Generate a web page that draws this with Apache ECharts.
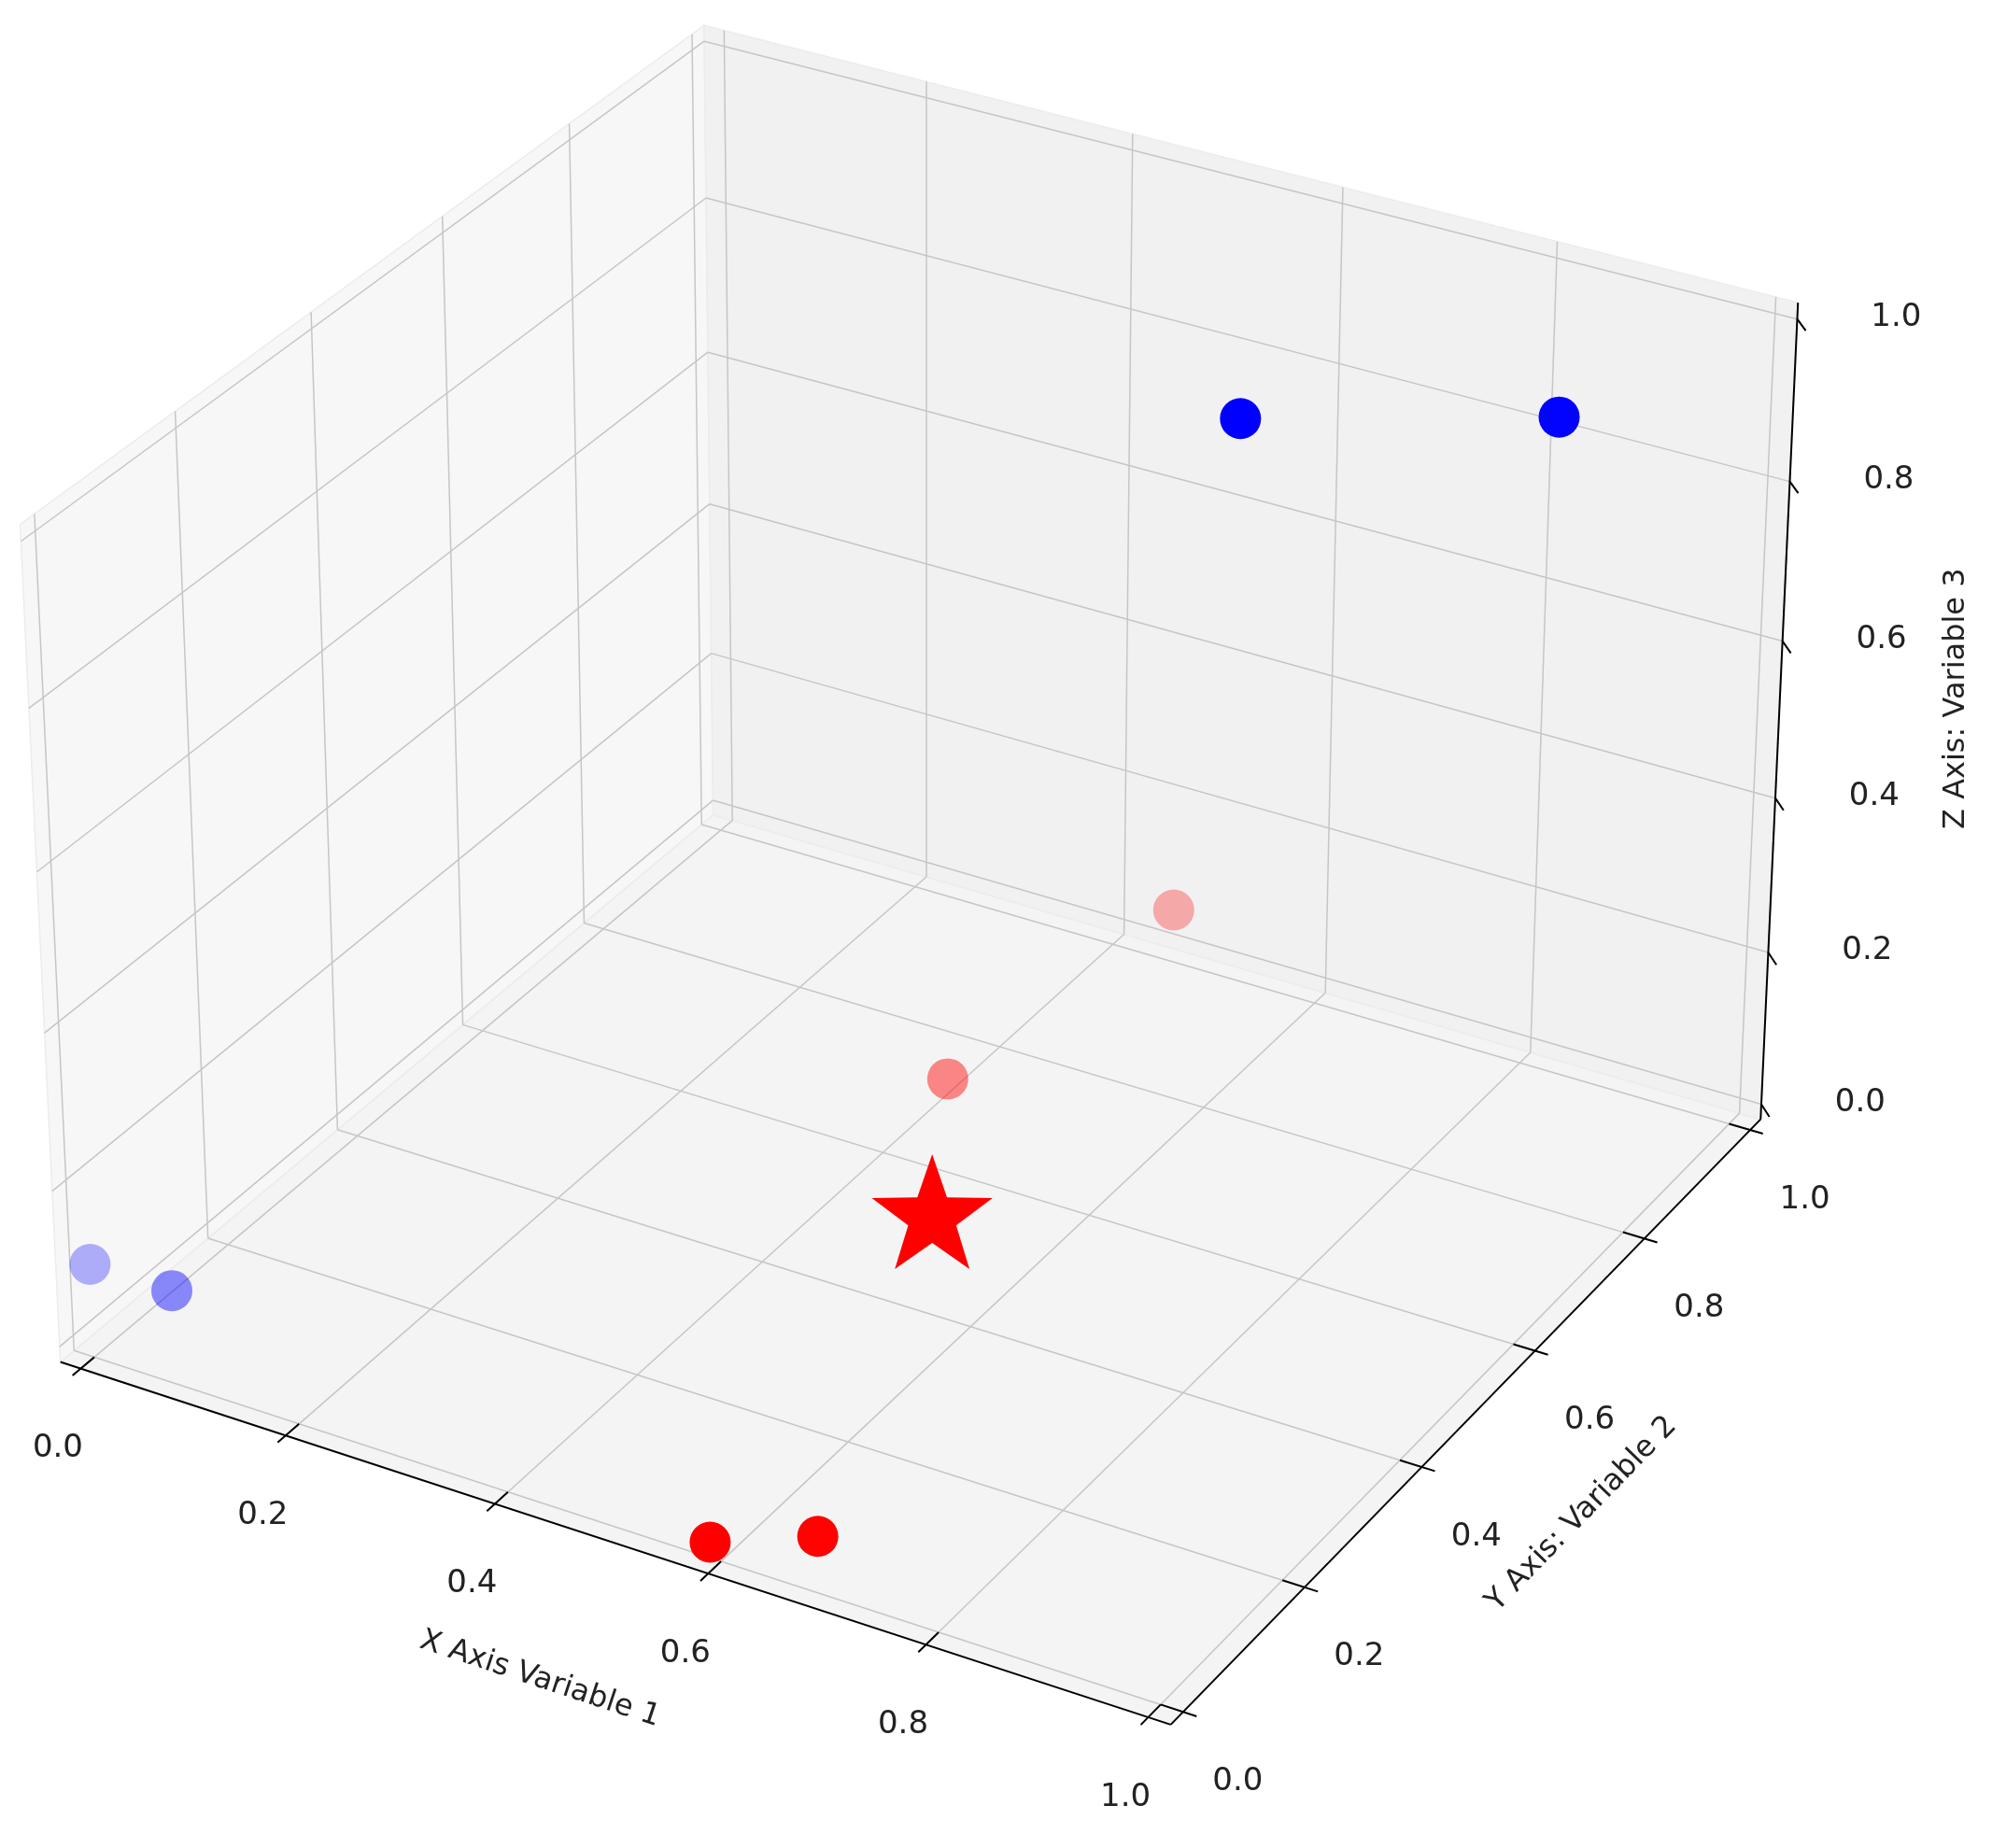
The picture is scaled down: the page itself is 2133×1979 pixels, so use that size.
<!DOCTYPE html>
<html>
<head>
<meta charset="utf-8">
<script src="https://cdn.jsdelivr.net/npm/echarts@6/dist/echarts.min.js"></script>
<style>html,body{margin:0;padding:0;background:#fff}#chart{width:2133px;height:1979px}</style>
</head>
<body>
<div id="chart"></div>
<script>
// data
const tickValues = [0, 0.2, 0.4, 0.6, 0.8, 1.0];
const tickLabels = ["0.0", "0.2", "0.4", "0.6", "0.8", "1.0"];
const blueX = [0.0, 0.08, 0.71, 0.93];
const blueY = [0.0, 0.0, 0.64, 0.77];
const blueZ = [0.1, 0.1, 1.0, 1.0];
const redX = [0.59, 0.66, 0.40, 0.46];
const redY = [0.0, 0.05, 0.71, 1.0];
const redZ = [0.0, 0.0, 0.0, 0.05];
const starPoint = [0.50, 0.51, 0.0];

// matplotlib-like perspective camera (elev 30, azim -60)
const m = 0.02;
const k = 2133 / 1568;
const A = [1.190, 1.190, 0.893];
const el = 30 * Math.PI / 180, az = -60 * Math.PI / 180;
const R = A.map(a => a / 2);
const dir = [Math.cos(el) * Math.cos(az), Math.cos(el) * Math.sin(az), Math.sin(el)];
const eye = R.map((r, i) => r + 10 * dir[i]);
const cross = (a, b) => [a[1]*b[2]-a[2]*b[1], a[2]*b[0]-a[0]*b[2], a[0]*b[1]-a[1]*b[0]];
const norm = a => { const l = Math.hypot(...a); return a.map(v => v / l); };
const dot = (a, b) => a[0]*b[0] + a[1]*b[1] + a[2]*b[2];
const w = norm(dir);
const u = norm(cross([0, 0, 1], w));
const v = cross(w, u);

function camera(x, y, z) {
    const p = [x, y, z].map((d, i) => (d + m) / (1 + 2 * m) * A[i] - eye[i]);
    const zc = -dot(p, w);
    return [dot(p, u) / zc, -dot(p, v) / zc, zc];
}

// fit screen scale/offset to the reference frame
const refs = [
    [[0, -m, -m], [63, 1077]], [[1, -m, -m], [905, 1355]],
    [[1 + m, 1 + m, 0], [1393, 875]], [[1 + m, 1 + m, 1], [1407, 250]],
    [[-m, -m, -m], [48, 1065]]
];
const sPts = refs.map(r => camera(...r[0]));
const sm = [0, 1].map(i => sPts.reduce((a, s) => a + s[i], 0) / sPts.length);
const pm = [0, 1].map(i => refs.reduce((a, r) => a + r[1][i], 0) / refs.length);
let num = 0, den = 0;
sPts.forEach((s, j) => {
    for (let i = 0; i < 2; i++) {
        num += (s[i] - sm[i]) * (refs[j][1][i] - pm[i]);
        den += (s[i] - sm[i]) ** 2;
    }
});
const S = num / den;
const C = [pm[0] - S * sm[0], pm[1] - S * sm[1]];

function toPx(x, y, z) {
    const c = camera(x, y, z);
    return [(C[0] + S * c[0]) * k, (C[1] + S * c[1]) * k, c[2]];
}

// panes, grid, axes
const lo = -m, hi = 1 + m;
const graphics = [];
function poly(pts, fill) {
    graphics.push({ type: "polygon", z: -20, shape: { points: pts.map(p => toPx(...p).slice(0, 2)) },
        style: { fill: fill, stroke: "#ececec", lineWidth: 1.5 } });
}
function line(a, b, color, width, zz) {
    const p = toPx(...a), q = toPx(...b);
    graphics.push({ type: "line", z: zz || -10, shape: { x1: p[0], y1: p[1], x2: q[0], y2: q[1] },
        style: { stroke: color, lineWidth: width } });
}
function text(str, pos, dx, dy, align) {
    const p = toPx(...pos);
    graphics.push({ type: "text", z: 5, x: p[0] + dx * k, y: p[1] + dy * k,
        style: { text: str, fill: "#222", font: "34px 'DejaVu Sans'", align: align || "center", verticalAlign: "middle" } });
}
poly([[lo, lo, lo], [hi, lo, lo], [hi, hi, lo], [lo, hi, lo]], "#f4f4f4");
poly([[lo, lo, lo], [lo, hi, lo], [lo, hi, hi], [lo, lo, hi]], "#f7f7f7");
poly([[lo, hi, lo], [hi, hi, lo], [hi, hi, hi], [lo, hi, hi]], "#f1f1f1");
const gc = "#c6c6c6";
tickValues.forEach(t => {
    line([t, lo, lo], [t, hi, lo], gc, 1.5);
    line([lo, t, lo], [hi, t, lo], gc, 1.5);
    line([lo, t, lo], [lo, t, hi], gc, 1.5);
    line([lo, lo, t], [lo, hi, t], gc, 1.5);
    line([t, hi, lo], [t, hi, hi], gc, 1.5);
    line([lo, hi, t], [hi, hi, t], gc, 1.5);
});
line([lo, lo, lo], [hi, lo, lo], "#000", 2, 1);
line([hi, lo, lo], [hi, hi, lo], "#000", 2, 1);
line([hi, hi, lo], [hi, hi, hi], "#000", 2, 1);
tickValues.forEach((t, i) => {
    line([t, lo - 0.012, lo], [t, lo + 0.02, lo], "#000", 2, 1);
    line([hi - 0.02, t, lo], [hi + 0.012, t, lo], "#000", 2, 1);
    line([hi, hi, t], [hi + 0.015, hi - 0.015, t], "#000", 2, 1);
    text(tickLabels[i], [t, lo, lo], -18, 63, "center");
    text(tickLabels[i], [hi, t, lo], 43, 55, "center");
    text(tickLabels[i], [hi, hi, t], 58, -1, "left");
});
graphics.push({ type: "text", z: 5, x: 425 * k, y: 1322 * k, rotation: -0.32,
    style: { text: "X Axis Variable 1", fill: "#222", font: "32px 'DejaVu Sans'", align: "center", verticalAlign: "middle" } });
graphics.push({ type: "text", z: 5, x: 1245 * k, y: 1192 * k, rotation: 0.8,
    style: { text: "Y Axis: Variable 2", fill: "#222", font: "32px 'DejaVu Sans'", align: "center", verticalAlign: "middle" } });
graphics.push({ type: "text", z: 5, x: 1540 * k, y: 550 * k, rotation: Math.PI / 2,
    style: { text: "Z Axis: Variable 3", fill: "#222", font: "32px 'DejaVu Sans'", align: "center", verticalAlign: "middle" } });

// points with depth shading, normalized per colour group
const circles = [];
blueX.forEach((x, i) => circles.push([x, blueY[i], blueZ[i], 0]));
redX.forEach((x, i) => circles.push([x, redY[i], redZ[i], 1]));
const depthOf = c => toPx(c[0], c[1], c[2])[2];
const range = [0, 1].map(g => {
    const d = circles.filter(c => c[3] === g).map(depthOf);
    return [Math.min(...d), Math.max(...d)];
});
circles.sort((a, b) => depthOf(b) - depthOf(a));

const chart = echarts.init(document.getElementById("chart"));
chart.setOption({
    backgroundColor: "#fff",
    animation: false,
    graphic: graphics,
    series: [{
        type: "custom",
        coordinateSystem: "none",
        data: circles,
        renderItem: function (params, api) {
            const g = api.value(3);
            const p = toPx(api.value(0), api.value(1), api.value(2));
            const a = 1 - 0.7 * (p[2] - range[g][0]) / (range[g][1] - range[g][0]);
            return { type: "circle", shape: { cx: p[0], cy: p[1], r: 22 },
                style: { fill: g ? "#ff0000" : "#0000ff", opacity: a } };
        }
    }, {
        type: "custom",
        coordinateSystem: "none",
        data: [starPoint],
        renderItem: function (params, api) {
            const p = toPx(api.value(0), api.value(1), api.value(2));
            const pts = [];
            for (let i = 0; i < 10; i++) {
                const r = (i % 2 ? 27 : 68);
                const ang = -Math.PI / 2 + i * Math.PI / 5;
                pts.push([p[0] + r * Math.cos(ang), p[1] + r * Math.sin(ang)]);
            }
            return { type: "polygon", shape: { points: pts }, style: { fill: "#ff0000" } };
        }
    }]
});
</script>
</body>
</html>
